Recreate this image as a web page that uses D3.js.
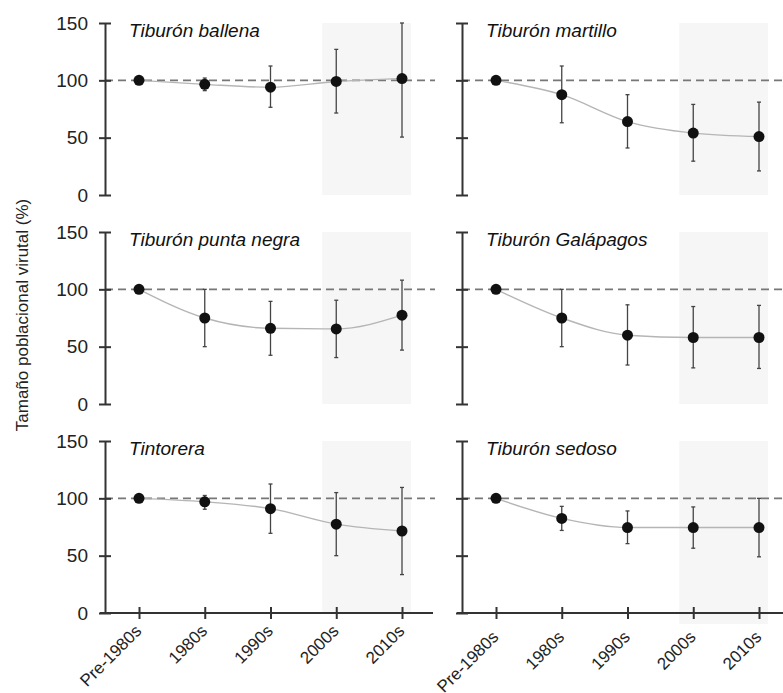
<!DOCTYPE html>
<html lang="es">
<head>
<meta charset="utf-8">
<title>Tamaño poblacional virtual</title>
<style>
    body { margin: 0; background: #fff; }
    svg { font-family: "Liberation Sans", Arial, sans-serif; }
    .panel-title { font-style: italic; font-size: 19px; fill: #111; }
    .y-axis path, .y-axis line { stroke: #333; stroke-width: 2px; }
    .y-axis text { font-size: 19px; fill: #222; }
    .x-axis line { stroke: #333; stroke-width: 2px; }
    .x-axis path { display: none; }
    .x-axis text { font-size: 17px; fill: #222; }
    .ref { stroke: #777; stroke-width: 1.6px; stroke-dasharray: 8,5; }
    .fit { fill: none; stroke: #b5b5b5; stroke-width: 1.4px; }
    .err { stroke: #444; stroke-width: 1.3px; }
</style>
</head>
<body>
<div id="chart"></div>
<script src="https://cdn.jsdelivr.net/npm/d3@7"></script>
<script>
    // data
    const categories = ["Pre-1980s", "1980s", "1990s", "2000s", "2010s"];
    const species = ["Tiburón ballena", "Tiburón martillo", "Tiburón punta negra",
        "Tiburón Galápagos", "Tintorera", "Tiburón sedoso"];
    const means = [
        [100, 96.5, 94, 99, 101.5],
        [100, 87.5, 64, 54, 51],
        [100, 75, 66, 65.5, 77.5],
        [100, 75, 60, 58, 58],
        [100, 97, 91, 77.5, 71.5],
        [100, 82.5, 74.5, 74.5, 74.5]
    ];
    const lower = [
        [null, 91, 76.5, 71.5, 50.5],
        [null, 63, 41, 29.5, 21],
        [null, 50, 42.5, 40.5, 47],
        [null, 50, 34, 31.5, 31],
        [null, 90.5, 69.5, 50, 33.5],
        [null, 72, 60.5, 56.5, 49]
    ];
    const upper = [
        [null, 102, 112.5, 127, 150],
        [null, 112.5, 87.5, 79, 81],
        [null, 100, 89.5, 90.5, 108],
        [null, 100, 86.5, 85, 86],
        [null, 102.5, 112.5, 105, 109.5],
        [null, 93, 89, 92.5, 100]
    ];
    const yTicks = [0, 50, 100, 150];
    const shaded = ["2000s", "2010s"];

    const width = 783;
    const height = 693;
    const colX = [105, 462];
    const rowTop = [23, 232, 441];
    const panelH = 172;

    const svg = d3.select("#chart").append("svg")
        .attr("width", width)
        .attr("height", height);

    svg.append("text")
        .attr("transform", "translate(28,315) rotate(-90)")
        .attr("text-anchor", "middle")
        .style("font-size", "17px")
        .style("fill", "#222")
        .text("Tamaño poblacional virutal (%)");

    species.forEach(function (name, i) {
        const col = i % 2;
        const row = Math.floor(i / 2);
        const ax = colX[col];
        const top = rowTop[row];

        const x = d3.scalePoint().domain(categories).range([ax + 34, ax + 297]);
        const y = d3.scaleLinear().domain([0, 150]).range([top + panelH, top]);

        const g = svg.append("g");

        g.append("rect")
            .attr("x", x(shaded[0]) - 14)
            .attr("y", y(150))
            .attr("width", x(shaded[1]) - x(shaded[0]) + 23)
            .attr("height", y(0) - y(150) + (row === 2 && col === 1 ? 11 : 0))
            .attr("fill", "#f6f6f6");

        g.append("line")
            .attr("class", "ref")
            .attr("x1", ax).attr("x2", ax + 330)
            .attr("y1", y(100)).attr("y2", y(100));

        const yAxis = d3.axisLeft(y)
            .tickValues(yTicks)
            .tickSize(6)
            .tickSizeOuter(0)
            .tickPadding(11);
        if (col === 1) yAxis.tickFormat("");
        const ya = g.append("g")
            .attr("class", "y-axis")
            .attr("transform", "translate(" + ax + ",0)")
            .call(yAxis);
        ya.selectAll(".tick line").attr("x1", 6);

        if (row === 2) {
            g.append("line")
                .attr("class", "x-axis")
                .attr("x1", ax - 5).attr("x2", ax + 328)
                .attr("y1", y(0)).attr("y2", y(0))
                .style("stroke", "#333").style("stroke-width", "2px");
            const xa = g.append("g")
                .attr("class", "x-axis")
                .attr("transform", "translate(0," + y(0) + ")")
                .call(d3.axisBottom(x).tickSize(6));
            xa.selectAll(".tick line").attr("y1", -6);
            xa.selectAll(".tick text")
                .attr("x", 0).attr("y", 0).attr("dy", 0)
                .attr("text-anchor", "end")
                .attr("transform", "translate(3," + (col === 0 ? 19 : 25) + ") rotate(-45)");
        }

        g.append("text")
            .attr("class", "panel-title")
            .attr("x", ax + 24)
            .attr("y", y(150) + 14)
            .text(name);

        const pts = categories.map(function (c, j) {
            return {cat: c, m: means[i][j], lo: lower[i][j], hi: upper[i][j]};
        });

        g.append("path")
            .datum(pts)
            .attr("class", "fit")
            .attr("d", d3.line()
                .x(function (d) { return x(d.cat); })
                .y(function (d) { return y(d.m); })
                .curve(d3.curveMonotoneX));

        const bars = pts.filter(function (d) { return d.lo !== null; });
        g.selectAll(".err-v")
            .data(bars).enter().append("line")
            .attr("class", "err")
            .attr("x1", function (d) { return x(d.cat); })
            .attr("x2", function (d) { return x(d.cat); })
            .attr("y1", function (d) { return y(Math.min(d.hi, 150)); })
            .attr("y2", function (d) { return y(d.lo); });
        [["hi"], ["lo"]].forEach(function (k) {
            g.selectAll(".cap-" + k[0])
                .data(bars).enter().append("line")
                .attr("class", "err")
                .attr("x1", function (d) { return x(d.cat) - 2; })
                .attr("x2", function (d) { return x(d.cat) + 2; })
                .attr("y1", function (d) { return y(Math.min(d[k[0]], 150)); })
                .attr("y2", function (d) { return y(Math.min(d[k[0]], 150)); });
        });

        g.selectAll("circle")
            .data(pts).enter().append("circle")
            .attr("cx", function (d) { return x(d.cat); })
            .attr("cy", function (d) { return y(d.m); })
            .attr("r", 5.5)
            .attr("fill", "#111");
    });
</script>
</body>
</html>
